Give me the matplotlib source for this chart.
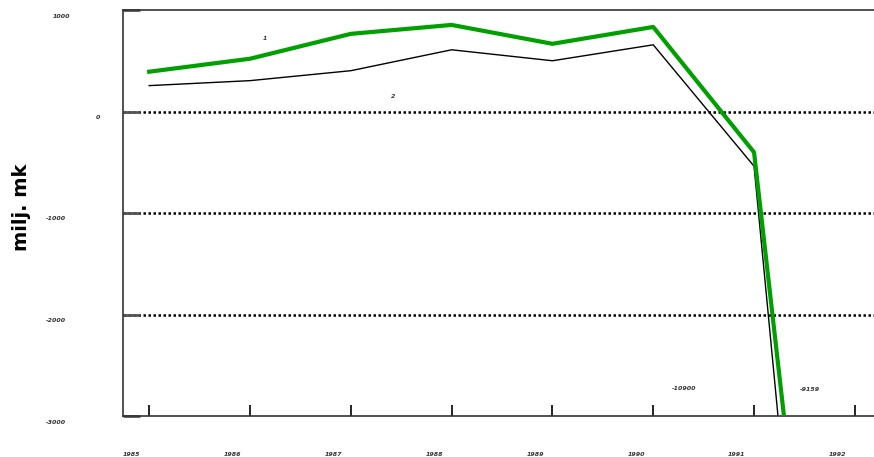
#!/usr/bin/env python3
import matplotlib
matplotlib.use("Agg")
import matplotlib.pyplot as plt

years = [1985, 1986, 1987, 1988, 1989, 1990, 1991, 1992]
series1 = [392, 520, 765, 853, 667, 833, -402, -9159]
series2 = [255, 304, 402, 608, 500, 657, -539, -10900]
ytick_values = [1000, 0, -1000, -2000, -3000]
grid_values = [0, -1000, -2000]
series1_name = "1"
series2_name = "2"
end_label1 = "-9159"
end_label2 = "-10900"
ylabel = "milj. mk"

W, H = 874, 457
fig = plt.figure(figsize=(W / 100.0, H / 100.0), dpi=100)
ax = fig.add_axes([123 / W, 1 - 416 / H, 1 - 123 / W, 406 / H])

ax.set_xlim(1984.74, 1992.19)
ax.set_ylim(-3000, 1000)

for g in grid_values:
    ax.axhline(g, color="black", lw=1.8, ls=(0, (1, 1)), zorder=1)

ax.plot(years, series1, color="#00a000", lw=3.0, zorder=3)
ax.plot(years, series2, color="black", lw=1.0, zorder=2)

small = dict(fontsize=4.5, style="italic", fontweight="bold", color="#333333")

# line names
ax.annotate(series1_name, (1986.13, 700), **small)
ax.annotate(series2_name, (1987.4, 130), **small)
# values of the last points, which fall below the axis
ax.annotate(end_label2, (1990.18, -2740), **small)
ax.annotate(end_label1, (1991.45, -2750), **small)

# ticks: x inward from the bottom, y short inward marks
ax.set_xticks(years)
ax.set_xticklabels([])
ax.tick_params(axis="x", direction="in", length=8, width=1.2, bottom=True)
ax.set_yticks(ytick_values)
ax.set_yticklabels([])
ax.tick_params(axis="y", direction="in", length=12, width=2, color="#555555")

for y in years:
    ax.annotate(str(y), (y, -3000), xytext=(-26, -40), textcoords="offset pixels",
                annotation_clip=False, **small)

ylabel_x = [70, 100, 66, 66, 66]
for v, px in zip(ytick_values, ylabel_x):
    ax.annotate(str(v), (0, v), xycoords=("figure pixels", "data"),
                xytext=(px, -6), textcoords="offset pixels", ha="right", va="center",
                annotation_clip=False, **small)

fig.text(22 / W, 1 - 207 / H, ylabel, rotation=90, ha="center", va="center",
         fontsize=14, fontweight="bold")

ax.spines["right"].set_visible(False)
for s in ["left", "bottom", "top"]:
    ax.spines[s].set_linewidth(1.2)
    ax.spines[s].set_color("#333333")

fig.savefig("out.png", dpi=100)
